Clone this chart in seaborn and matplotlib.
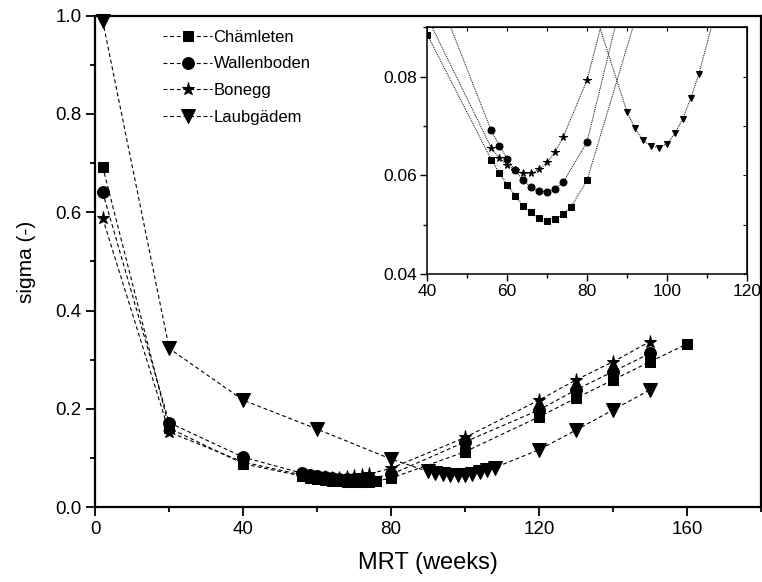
import matplotlib

matplotlib.use("Agg")
import matplotlib.pyplot as plt
import pandas as pd
import seaborn as sns
from matplotlib.ticker import MultipleLocator

# MRT (weeks) values per site
chaem_x = [2, 20, 40, 56, 58, 60, 62, 64, 66, 68, 70, 72, 74, 76, 80, 100, 120, 130, 140, 150, 160]
chaem_y = [0.693, 0.161, 0.0885, 0.0632, 0.0605, 0.0581, 0.0559, 0.0538, 0.0525, 0.0513,
           0.0508, 0.0511, 0.0521, 0.0536, 0.059, 0.113, 0.184, 0.222, 0.259, 0.296, 0.332]

wallen_x = [2, 20, 40, 56, 58, 60, 62, 64, 66, 68, 70, 72, 74, 80, 100, 120, 130, 140, 150]
wallen_y = [0.641, 0.172, 0.102, 0.0691, 0.066, 0.0634, 0.061, 0.059, 0.0576, 0.0568,
            0.0567, 0.0573, 0.0586, 0.0668, 0.133, 0.198, 0.239, 0.276, 0.313]

bonegg_x = [2, 20, 40, 56, 58, 60, 62, 64, 66, 68, 70, 72, 74, 80, 100, 120, 130, 140, 150]
bonegg_y = [0.588, 0.153, 0.092, 0.0656, 0.0635, 0.0621, 0.061, 0.0604, 0.0604, 0.0612,
            0.0626, 0.0648, 0.0677, 0.0793, 0.142, 0.218, 0.259, 0.296, 0.337]

laub_x = [2, 20, 40, 60, 80, 90, 92, 94, 96, 98, 100, 102, 104, 106, 108, 120, 130, 140, 150]
laub_y = [0.99, 0.323, 0.218, 0.159, 0.098, 0.0729, 0.0695, 0.0671, 0.0659, 0.0656,
          0.0664, 0.0685, 0.0715, 0.0757, 0.0805, 0.117, 0.157, 0.198, 0.239]

sites = ["Chämleten", "Wallenboden", "Bonegg", "Laubgädem"]
markers = ["s", "o", "*", "v"]
main_sizes = [7.5, 8.5, 9.5, 9.5]
inset_sizes = [4.5, 5, 5.5, 5]

frames = []
for name, xs, ys in [
    ("Chämleten", chaem_x, chaem_y),
    ("Wallenboden", wallen_x, wallen_y),
    ("Bonegg", bonegg_x, bonegg_y),
    ("Laubgädem", laub_x, laub_y),
]:
    frames.append(pd.DataFrame({"site": name, "MRT": xs, "sigma": ys}))
df = pd.concat(frames, ignore_index=True)

sns.set_style("ticks", {"axes.edgecolor": "black", "xtick.color": "black",
                        "ytick.color": "black", "text.color": "black",
                        "axes.labelcolor": "black"})
plt.rcParams["font.family"] = ["Liberation Sans", "DejaVu Sans"]

fig = plt.figure(figsize=(7.62, 5.82), dpi=100)
ax = fig.add_axes([0.125, 0.1284, 0.8736, 0.8447])

for site, mk, ms in zip(sites, markers, main_sizes):
    sub = df[df["site"] == site]
    sns.lineplot(data=sub, x="MRT", y="sigma", ax=ax, color="black",
                 marker=mk, markersize=ms, markeredgecolor="black",
                 linestyle=(0, (3.5, 2.5)), linewidth=0.8, label=site)

for line in ax.lines:
    line.set_clip_on(False)

ax.set_xlim(0, 180)
ax.set_ylim(0, 1.0)
ax.xaxis.set_major_locator(MultipleLocator(40))
ax.xaxis.set_minor_locator(MultipleLocator(20))
ax.yaxis.set_major_locator(MultipleLocator(0.2))
ax.yaxis.set_minor_locator(MultipleLocator(0.1))
ax.tick_params(which="major", direction="out", length=6.5, width=1.3, labelsize=13.5)
ax.tick_params(which="minor", direction="out", length=3.5, width=1.3)
for sp in ax.spines.values():
    sp.set_linewidth(1.6)
ax.set_xlabel("MRT (weeks)", fontsize=17, labelpad=10)
ax.set_ylabel("sigma (-)", fontsize=15, labelpad=14)

ax.legend(loc="upper left", bbox_to_anchor=(0.085, 0.995), frameon=False,
          fontsize=12, handlelength=2.9, handletextpad=0.1, labelspacing=0.7,
          borderaxespad=0.3)

# inset zoom on the minima
ins = fig.add_axes([0.5608, 0.5292, 0.4192, 0.4239])
ins.set_facecolor("white")
for site, mk, ms in zip(sites, markers, inset_sizes):
    sub = df[df["site"] == site]
    sns.lineplot(data=sub, x="MRT", y="sigma", ax=ins, color="black",
                 marker=mk, markersize=ms, markeredgecolor="black",
                 linestyle=(0, (1, 1)), linewidth=0.7, legend=False)
ins.set_xlim(40, 120)
ins.set_ylim(0.04, 0.09)
ins.xaxis.set_major_locator(MultipleLocator(20))
ins.xaxis.set_minor_locator(MultipleLocator(10))
ins.yaxis.set_minor_locator(MultipleLocator(0.01))
ins.set_yticks([0.04, 0.06, 0.08])
ins.set_yticklabels(["0.04", "0.06", "0.08"])
ins.tick_params(which="major", direction="out", length=5, width=1.0, labelsize=12.5, pad=2)
ins.tick_params(which="minor", direction="out", length=3, width=1.0)
ins.set_xlabel("")
ins.set_ylabel("")
for sp in ins.spines.values():
    sp.set_linewidth(1.1)

# small inward ticks on the inset's top and right edges
top = ins.secondary_xaxis("top")
top.xaxis.set_major_locator(MultipleLocator(20))
top.xaxis.set_minor_locator(MultipleLocator(10))
top.tick_params(which="both", direction="in", length=3, width=0.8, labeltop=False)
right = ins.secondary_yaxis("right")
right.set_yticks([0.04, 0.06, 0.08])
right.yaxis.set_minor_locator(MultipleLocator(0.01))
right.tick_params(which="both", direction="in", length=3, width=0.8, labelright=False)

fig.savefig("out.png", dpi=100)
